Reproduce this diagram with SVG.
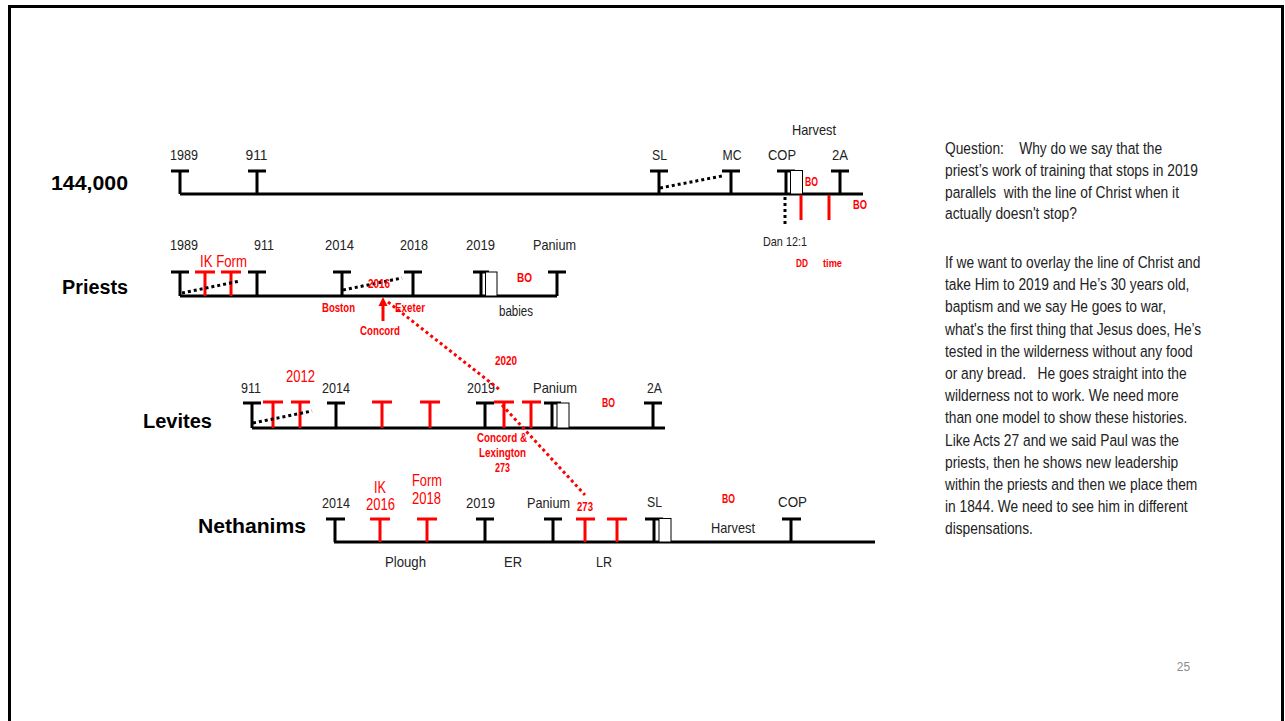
<svg xmlns="http://www.w3.org/2000/svg" width="1285" height="721" viewBox="0 0 1285 721">
<style>
.ln{stroke:#000;stroke-width:3;fill:none}
.rd{stroke:#f00;stroke-width:3;fill:none}
.dk{stroke:#000;stroke-width:3;stroke-dasharray:3 3;fill:none}
.dr{stroke:#f00;stroke-width:3;stroke-dasharray:3 3;fill:none}
.box{fill:#fff;stroke:#000;stroke-width:1}
text{font-family:"Liberation Sans",Arial,sans-serif}
.t{font-size:15px;fill:#222;text-anchor:middle}
.r{font-size:16px;fill:#f00;text-anchor:middle}
.rb{font-size:12px;font-weight:bold;fill:#f00;text-anchor:middle}
.h{font-size:20px;font-weight:bold;fill:#000;text-anchor:end}
.p{font-size:17px;fill:#222}
</style>
<rect x="9.5" y="6.5" width="1273" height="740" fill="#fff" stroke="#000" stroke-width="3"/>

<g id="line-144000">
<path class="ln" d="M180,194H863M171,171H189M180,171V194M248,171H266M257,171V194M650,171H668M659,171V194M722,171H740M731,171V194M777,171H795M786,171V194M831,171H849M840,171V194"/>
<rect class="box" x="790.5" y="170.5" width="12" height="23.5"/>
<path class="dk" d="M660,188L722,176"/>
<path class="dk" d="M785,197V224"/>
<path class="rd" d="M801,195V220M829,195V220"/>
<text class="h" x="128" y="190" textLength="77" lengthAdjust="spacingAndGlyphs">144,000</text>
<text class="t" x="184" y="160" textLength="28" lengthAdjust="spacingAndGlyphs">1989</text>
<text class="t" x="256.5" y="160" textLength="22" lengthAdjust="spacingAndGlyphs">911</text>
<text class="t" x="659.5" y="160" textLength="15" lengthAdjust="spacingAndGlyphs">SL</text>
<text class="t" x="732" y="160" textLength="19" lengthAdjust="spacingAndGlyphs">MC</text>
<text class="t" x="782" y="160" textLength="28" lengthAdjust="spacingAndGlyphs">COP</text>
<text class="t" x="814" y="135" textLength="44" lengthAdjust="spacingAndGlyphs">Harvest</text>
<text class="t" x="840" y="160" textLength="16" lengthAdjust="spacingAndGlyphs">2A</text>
<text class="rb" x="811.5" y="186" textLength="13" lengthAdjust="spacingAndGlyphs">BO</text>
<text class="rb" x="860" y="209" textLength="14" lengthAdjust="spacingAndGlyphs">BO</text>
<text class="t" x="785" y="246" style="font-size:13px" textLength="44" lengthAdjust="spacingAndGlyphs">Dan 12:1</text>
<text class="rb" x="802" y="267" style="font-size:11px" textLength="12" lengthAdjust="spacingAndGlyphs">DD</text>
<text class="rb" x="832.5" y="267" style="font-size:11px" textLength="19" lengthAdjust="spacingAndGlyphs">time</text>
</g>

<g id="line-priests">
<path class="ln" d="M180,296H557M171,272H189M180,272V296M248,272H266M257,272V296M333,272H351M342,272V296M404,272H422M413,272V296M473,272H489M481,272V296M548,272H566M557,272V296"/>
<path class="rd" d="M195,272H215M205,272V296M221,272H241M231,272V296"/>
<rect class="box" x="485.5" y="272" width="11.5" height="24"/>
<path class="dk" d="M182,293L240,281M343,290L402,278"/>
<text class="h" x="128" y="294" textLength="66" lengthAdjust="spacingAndGlyphs">Priests</text>
<text class="t" x="184" y="250" textLength="28" lengthAdjust="spacingAndGlyphs">1989</text>
<text class="t" x="264" y="250" textLength="20" lengthAdjust="spacingAndGlyphs">911</text>
<text class="t" x="339.5" y="250" textLength="29" lengthAdjust="spacingAndGlyphs">2014</text>
<text class="t" x="414" y="250" textLength="28" lengthAdjust="spacingAndGlyphs">2018</text>
<text class="t" x="480.5" y="250" textLength="29" lengthAdjust="spacingAndGlyphs">2019</text>
<text class="t" x="554.5" y="250" textLength="43" lengthAdjust="spacingAndGlyphs">Panium</text>
<text class="r" x="223.5" y="267" textLength="47" lengthAdjust="spacingAndGlyphs">IK Form</text>
<text class="rb" x="379" y="288" textLength="22" lengthAdjust="spacingAndGlyphs">2016</text>
<text class="rb" x="338.5" y="312" textLength="33" lengthAdjust="spacingAndGlyphs">Boston</text>
<text class="rb" x="410" y="312" textLength="30" lengthAdjust="spacingAndGlyphs">Exeter</text>
<text class="rb" x="380" y="335" textLength="40" lengthAdjust="spacingAndGlyphs">Concord</text>
<text class="rb" x="524.5" y="282" textLength="15" lengthAdjust="spacingAndGlyphs">BO</text>
<text class="t" x="516" y="316" style="font-size:14px" textLength="34" lengthAdjust="spacingAndGlyphs">babies</text>
</g>

<g id="line-levites">
<path class="ln" d="M252,428H665M243,403H261M252,403V428M327,403H345M336,403V428M476,403H494M485,403V428M544,403H561M552,403V428M644,403H662M653,403V428"/>
<path class="rd" d="M263,402H283M273,402V428M291,402H310M300,402V428M372,402H392M382,402V428M420,402H440M430,402V428M494,402H514M504,402V428M522,402H541M531,402V428"/>
<rect class="box" x="557" y="403" width="12" height="25"/>
<path class="dk" d="M253,423L312,411"/>
<text class="h" x="212" y="428" textLength="69" lengthAdjust="spacingAndGlyphs">Levites</text>
<text class="t" x="251" y="393" textLength="20" lengthAdjust="spacingAndGlyphs">911</text>
<text class="t" x="336" y="393" textLength="28" lengthAdjust="spacingAndGlyphs">2014</text>
<text class="t" x="481" y="393" textLength="28" lengthAdjust="spacingAndGlyphs">2019</text>
<text class="t" x="555" y="393" textLength="44" lengthAdjust="spacingAndGlyphs">Panium</text>
<text class="t" x="654.5" y="393" textLength="15" lengthAdjust="spacingAndGlyphs">2A</text>
<text class="r" x="300.5" y="382" textLength="29" lengthAdjust="spacingAndGlyphs">2012</text>
<text class="rb" x="608.5" y="407" textLength="13" lengthAdjust="spacingAndGlyphs">BO</text>
<text class="rb" x="506" y="365" textLength="22" lengthAdjust="spacingAndGlyphs">2020</text>
<text class="rb" x="502" y="442" textLength="50" lengthAdjust="spacingAndGlyphs">Concord &amp;</text>
<text class="rb" x="502.5" y="457" textLength="47" lengthAdjust="spacingAndGlyphs">Lexington</text>
<text class="rb" x="502.5" y="472" textLength="15" lengthAdjust="spacingAndGlyphs">273</text>
</g>

<g id="line-nethanims">
<path class="ln" d="M334,542H875M326,519H345M335,519V542M476,519H494M485,519V542M544,519H562M553,519V542M645,519H663M654,519V542M782,519H801M791,519V542"/>
<path class="rd" d="M370,519H390M380,519V542M417,519H437M427,519V542M576,519H595M585,519V542M607,519H627M617,519V542"/>
<rect class="box" x="659" y="518.5" width="12" height="23.5"/>
<text class="h" x="306" y="533" textLength="108" lengthAdjust="spacingAndGlyphs">Nethanims</text>
<text class="t" x="336" y="508" textLength="28" lengthAdjust="spacingAndGlyphs">2014</text>
<text class="t" x="480.5" y="508" textLength="29" lengthAdjust="spacingAndGlyphs">2019</text>
<text class="t" x="548.5" y="508" textLength="43" lengthAdjust="spacingAndGlyphs">Panium</text>
<text class="t" x="654.5" y="507" textLength="15" lengthAdjust="spacingAndGlyphs">SL</text>
<text class="t" x="792.5" y="507" textLength="29" lengthAdjust="spacingAndGlyphs">COP</text>
<text class="t" x="733" y="533" textLength="44" lengthAdjust="spacingAndGlyphs">Harvest</text>
<text class="t" x="405.5" y="567" textLength="41" lengthAdjust="spacingAndGlyphs">Plough</text>
<text class="t" x="513" y="567" textLength="18" lengthAdjust="spacingAndGlyphs">ER</text>
<text class="t" x="604" y="567" textLength="16" lengthAdjust="spacingAndGlyphs">LR</text>
<text class="r" x="380" y="493" textLength="12" lengthAdjust="spacingAndGlyphs">IK</text>
<text class="r" x="380.5" y="510" textLength="29" lengthAdjust="spacingAndGlyphs">2016</text>
<text class="r" x="427" y="486" textLength="30" lengthAdjust="spacingAndGlyphs">Form</text>
<text class="r" x="426.5" y="504" textLength="29" lengthAdjust="spacingAndGlyphs">2018</text>
<text class="rb" x="585" y="511" textLength="16" lengthAdjust="spacingAndGlyphs">273</text>
<text class="rb" x="728.5" y="503" textLength="13" lengthAdjust="spacingAndGlyphs">BO</text>
</g>

<g id="connectors">
<path class="rd" d="M383,321V305"/>
<polygon points="383,297 378.5,306 387.5,306" fill="#f00"/>
<path class="dr" d="M388,302L500,390M502,405L585,495"/>
</g>

<g id="notes" transform="translate(945 0) scale(0.81 1)">
<text class="p" xml:space="preserve"><tspan x="0" y="154">Question:    Why do we say that the</tspan><tspan x="0" y="176">priest’s work of training that stops in 2019</tspan><tspan x="0" y="198">parallels  with the line of Christ when it</tspan><tspan x="0" y="219">actually doesn't stop?</tspan><tspan x="0" y="268">If we want to overlay the line of Christ and</tspan><tspan x="0" y="290">take Him to 2019 and He’s 30 years old,</tspan><tspan x="0" y="312">baptism and we say He goes to war,</tspan><tspan x="0" y="335">what's the first thing that Jesus does, He’s</tspan><tspan x="0" y="357">tested in the wilderness without any food</tspan><tspan x="0" y="379">or any bread.   He goes straight into the</tspan><tspan x="0" y="401">wilderness not to work. We need more</tspan><tspan x="0" y="423">than one model to show these histories.</tspan><tspan x="0" y="446">Like Acts 27 and we said Paul was the</tspan><tspan x="0" y="468">priests, then he shows new leadership</tspan><tspan x="0" y="490">within the priests and then we place them</tspan><tspan x="0" y="512">in 1844. We need to see him in different</tspan><tspan x="0" y="534">dispensations.</tspan></text>
</g>
<text x="1183.5" y="671" style="font-size:12px;fill:#8c8c8c;text-anchor:middle">25</text>
</svg>
